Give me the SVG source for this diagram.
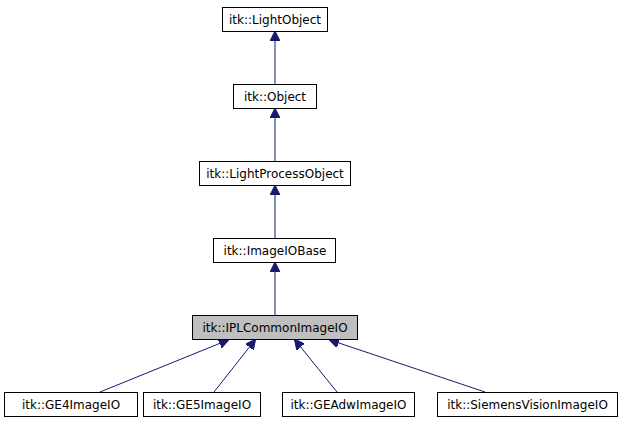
<svg xmlns="http://www.w3.org/2000/svg" width="621" height="427" viewBox="0 0 621 427">
<style>
.n rect{fill:#fff;stroke:#000;stroke-width:1}
.n text{font-family:"DejaVu Sans",sans-serif;font-size:12px;text-anchor:middle;fill:#000}
.e{stroke:#191970;stroke-width:1;fill:none;marker-end:url(#a)}
</style>
<defs><marker id="a" markerWidth="10" markerHeight="10" refX="9" refY="5" orient="auto" markerUnits="userSpaceOnUse"><path d="M0,0L10,5L0,10z" fill="#191970" stroke="#191970"/></marker></defs>
<rect width="621" height="427" fill="#fff"/>
<g id="connectors">
<line class="e" x1="275" y1="84" x2="275" y2="32"/>
<line class="e" x1="275" y1="161" x2="275" y2="109"/>
<line class="e" x1="275" y1="238" x2="275" y2="186"/>
<line class="e" x1="275" y1="315" x2="275" y2="263"/>
<line class="e" x1="100" y1="392" x2="228" y2="340"/>
<line class="e" x1="214" y1="392" x2="255" y2="340"/>
<line class="e" x1="337" y1="392" x2="295" y2="340"/>
<line class="e" x1="485" y1="392" x2="330" y2="340"/>
</g>
<g id="lightobject" class="n"><rect x="222.5" y="7.5" width="105" height="24"/><text x="275" y="24">itk::LightObject</text></g>
<g id="object" class="n"><rect x="233.5" y="84.5" width="83" height="24"/><text x="275" y="101">itk::Object</text></g>
<g id="lightprocessobject" class="n"><rect x="199.5" y="161.5" width="151" height="24"/><text x="275" y="178">itk::LightProcessObject</text></g>
<g id="imageiobase" class="n"><rect x="213.5" y="238.5" width="122" height="24"/><text x="275" y="255">itk::ImageIOBase</text></g>
<g id="iplcommon" class="n"><rect x="192.5" y="315.5" width="165" height="24" style="fill:#bfbfbf"/><text x="275" y="332">itk::IPLCommonImageIO</text></g>
<g id="ge4" class="n"><rect x="4.5" y="392.5" width="133" height="24"/><text x="71" y="409">itk::GE4ImageIO</text></g>
<g id="ge5" class="n"><rect x="143.5" y="392.5" width="117" height="24"/><text x="202" y="409">itk::GE5ImageIO</text></g>
<g id="geadw" class="n"><rect x="282.5" y="392.5" width="132" height="24"/><text x="348.5" y="409">itk::GEAdwImageIO</text></g>
<g id="siemens" class="n"><rect x="437.5" y="392.5" width="180" height="24"/><text x="527.5" y="409">itk::SiemensVisionImageIO</text></g>
</svg>
